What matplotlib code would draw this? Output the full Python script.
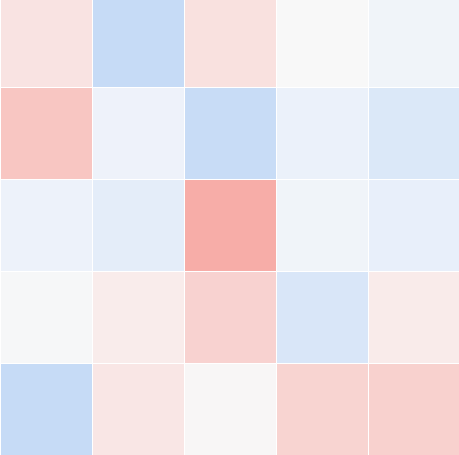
import numpy as np
import matplotlib
matplotlib.use("Agg")
import matplotlib.pyplot as plt
from matplotlib.colors import LinearSegmentedColormap

# ================================
# DATA (5x5 grid, diverging values)
# ================================

row_labels = ["r0", "r1", "r2", "r3", "r4"]
col_labels = ["c0", "c1", "c2", "c3", "c4"]

row0 = [0.24, -0.78, 0.27, 0.00, -0.12]
row1 = [0.58, -0.16, -0.75, -0.20, -0.44]
row2 = [-0.17, -0.31, 0.87, -0.12, -0.25]
row3 = [-0.03, 0.14, 0.43, -0.48, 0.15]
row4 = [-0.78, 0.21, 0.02, 0.42, 0.45]

values = np.array([row0, row1, row2, row3, row4])

# ================================
# COLORMAP
# ================================

cmap = LinearSegmentedColormap.from_list(
    "soft_div",
    [(0.0, "#b8d2f4"), (0.4, "#ebf1fa"), (0.5, "#f8f8f8"),
     (0.575, "#f9ebea"), (1.0, "#f7a29c")]
)

# ================================
# PLOT
# ================================

# square grid (460x460) whose top few pixels fall outside the 456 px canvas
fig = plt.figure(figsize=(4.6, 4.56), dpi=100)
ax = fig.add_axes([0, 0, 1, 460 / 456])
ax.pcolormesh(values, cmap=cmap, vmin=-1, vmax=1,
              edgecolors="white", linewidth=0.6)
ax.set_xlim(0, len(col_labels))
ax.set_ylim(len(row_labels), 0)
ax.axis("off")

fig.savefig("out.png", dpi=100, facecolor="white")
